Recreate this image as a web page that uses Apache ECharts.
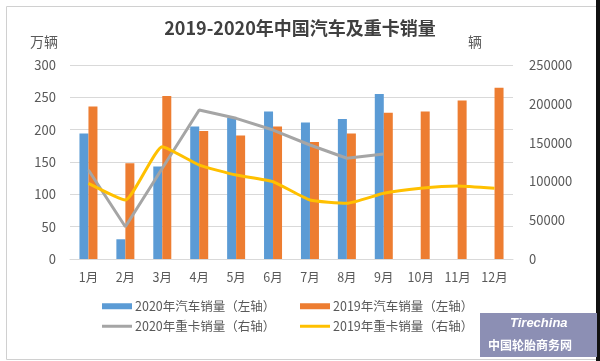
<!DOCTYPE html>
<html><head><meta charset="utf-8">
<script src="https://cdn.jsdelivr.net/npm/echarts@6/dist/echarts.min.js"></script>
<style>html,body{margin:0;padding:0;background:#fff}#c{width:600px;height:361px}</style>
</head><body><div id="c"></div>
<script>
const categories = ['1月','2月','3月','4月','5月','6月','7月','8月','9月','10月','11月','12月'];
const cars2020 = [194, 30.5, 143, 205, 218.5, 228, 211, 216.5, 255, null, null, null];
const cars2019 = [236, 148, 252, 198, 191, 205, 181, 194, 226, 228, 245, 265];
const trucks2020 = [114700, 41600, 117000, 192000, 181300, 166200, 146900, 129800, 135300, null, null, null];
const trucks2019 = [97500, 76000, 144700, 121100, 108200, 99600, 76000, 71800, 84700, 91100, 94100, 91100];
const seriesNames = ['2020年汽车销量（左轴）','2019年汽车销量（左轴）','2020年重卡销量（右轴）','2019年重卡销量（右轴）'];
const leftTicks = {min:0, max:300, interval:50};
const rightTicks = {min:0, max:250000, interval:50000};

const ch = echarts.init(document.getElementById('c'), null, {renderer:'canvas'});
const font = '"Noto Sans CJK SC", "Microsoft YaHei", sans-serif';
const colors = ['#5B9BD5','#ED7D31','#A5A5A5','#FFC000'];
const legendPos = [[97,295],[295,295],[97,315],[295,315]];
ch.setOption({
  animation:false,
  textStyle:{fontFamily:font},
  color:colors,
  title:{text:'2019-2020年中国汽车及重卡销量', left:'center', top:14,
    textStyle:{fontSize:18, fontWeight:'bold', color:'#404040', fontFamily:font}},
  legend: seriesNames.map((n,i)=>({
    data:[{name:n, icon:'rect'}],
    left:legendPos[i][0], top:legendPos[i][1],
    itemWidth:30, itemHeight:i<2?6:3, itemGap:4,
    textStyle:{fontSize:12.5, color:'#595959', fontFamily:font, padding:[0,0,0,-2]}
  })),
  grid:{left:70, right:87, top:65, bottom:102},
  xAxis:{type:'category', data:categories,
    axisLine:{lineStyle:{color:'#D9D9D9'}}, axisTick:{show:false},
    axisLabel:{color:'#595959', fontSize:12.5, margin:12}},
  yAxis:[
    {type:'value', min:leftTicks.min, max:leftTicks.max, interval:leftTicks.interval,
     name:'万辆', nameLocation:'end', nameGap:16,
     nameTextStyle:{color:'#595959', fontSize:14, align:'right', padding:[0,12,0,0]},
     axisLabel:{color:'#595959', fontSize:13, margin:14},
     splitLine:{lineStyle:{color:'#D9D9D9'}}, axisLine:{show:false}, axisTick:{show:false}},
    {type:'value', min:rightTicks.min, max:rightTicks.max, interval:rightTicks.interval,
     name:'辆', nameLocation:'end', nameGap:16,
     nameTextStyle:{color:'#595959', fontSize:14, align:'left', padding:[0,0,0,-45]},
     axisLabel:{color:'#595959', fontSize:13, margin:16, formatter:v=>String(v)},
     splitLine:{show:false}, axisLine:{show:false}, axisTick:{show:false}}
  ],
  series:[
    {name:seriesNames[0], type:'bar', data:cars2020, barWidth:9, barGap:'0%', yAxisIndex:0},
    {name:seriesNames[1], type:'bar', data:cars2019, barWidth:9, barGap:'0%', yAxisIndex:0},
    {name:seriesNames[2], type:'line', data:trucks2020, yAxisIndex:1, showSymbol:false, symbol:'none',
     lineStyle:{width:3, color:colors[2]}, itemStyle:{color:colors[2]}, connectNulls:false},
    {name:seriesNames[3], type:'line', data:trucks2019, yAxisIndex:1, showSymbol:false, symbol:'none',
     smooth:0.15, lineStyle:{width:3, color:colors[3]}, itemStyle:{color:colors[3]}}
  ],
  graphic:[
    {type:'rect', left:4, top:4, shape:{width:591, height:353}, style:{fill:'none', stroke:'#D0D0D0', lineWidth:1}, z:-1},
    {type:'rect', left:596, top:0, shape:{width:4, height:361}, style:{fill:'#111'}},
    {type:'group', left:480, top:313, children:[
      {type:'rect', shape:{width:117, height:44}, style:{fill:'#8C8FB4'}},
      {type:'text', left:30, top:4, style:{text:'Tirechina', fill:'#fff', font:'italic bold 13px sans-serif'}},
      {type:'text', left:8, top:26, style:{text:'中国轮胎商务网', fill:'#fff', font:'bold 12px "Noto Sans CJK SC"'}}
    ]}
  ]
});
</script></body></html>
